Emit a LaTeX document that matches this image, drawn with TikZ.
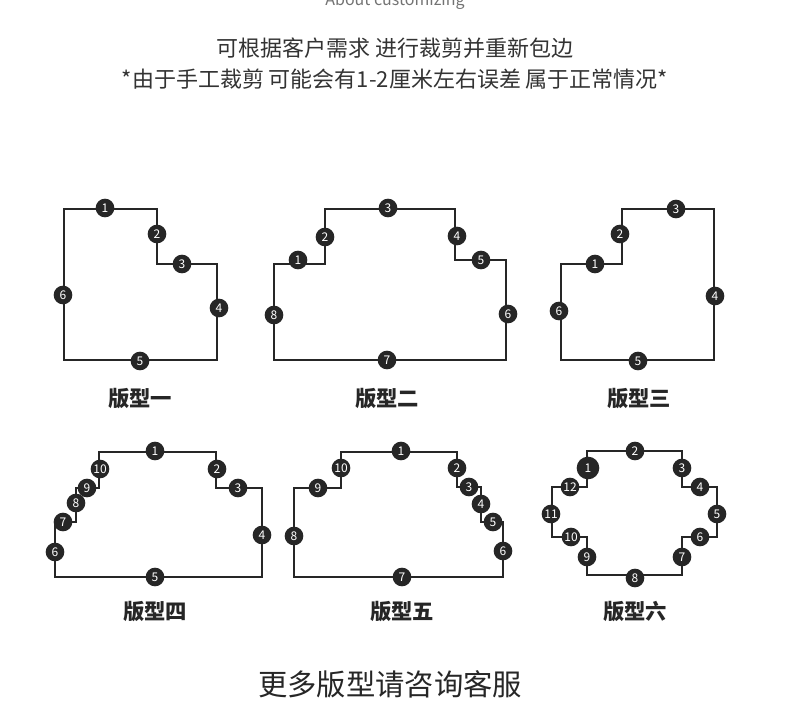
\documentclass[tikz,border=0pt]{standalone}
\usepackage{fontspec}
\usepackage{tikz}
\setmainfont{Noto Sans CJK SC}
\usetikzlibrary{calc}

\tikzset{
  outline/.style={draw=black!85, line width=1.5pt},
  badge/.style={circle, fill=black!85, text=white, inner sep=0pt, minimum size=14pt, font=\fontsize{9}{9}\selectfont},
  caption/.style={font=\bfseries\fontsize{16}{16}\selectfont, text=black!85}
}

\begin{document}
\begin{tikzpicture}[x=0.75pt,y=-0.75pt]
                            \useasboundingbox (0,0) rectangle (790,708);
                            \node [text=black!55, font=\fontsize{12}{12}\selectfont] (about) at (395,1) {About customizing};
                            \node [text=black!80, font=\fontsize{16.5}{16.5}\selectfont] (line1) at (395,48) {可根据客户需求 进行裁剪并重新包边};
                            \node [text=black!80, font=\fontsize{16.5}{16.5}\selectfont] (line2) at (395,79) {*由于手工裁剪 可能会有1-2厘米左右误差 属于正常情况*};
                            % outlines
                            \draw [outline] (64,209) -- (157,209) -- (157,264) -- (217,264) -- (217,360) -- (64,360) -- cycle;
                            \draw [outline] (274,360) -- (274,264) -- (325,264) -- (325,209) -- (455,209) -- (455,260) -- (506,260) -- (506,360) -- cycle;
                            \draw [outline] (561,360) -- (561,264) -- (622,264) -- (622,209) -- (714,209) -- (714,360) -- cycle;
                            \draw [outline] (55,577) -- (55,522) -- (76,522) -- (76,488) -- (99,488) -- (99,452) -- (216,452) -- (216,488) -- (262,488) -- (262,577) -- cycle;
                            \draw [outline] (294,577) -- (294,488) -- (341,488) -- (341,452) -- (457,452) -- (457,487) -- (481,487) -- (481,522) -- (503,522) -- (503,577) -- cycle;
                            \draw [outline] (587,451) -- (682,451) -- (682,487) -- (717,487) -- (717,537) -- (682,537) -- (682,575) -- (587,575) -- (587,537) -- (552,537) -- (552,487) -- (587,487) -- cycle;
                            % numbered badges
                            \foreach \n/\x/\y in {1/105/208, 2/157/234, 3/182/264, 4/219/308, 5/140/361, 6/63/295}
                                \node [badge] (a\n) at (\x,\y) {\n};
                            \foreach \n/\x/\y in {1/298/260, 2/325/237, 3/388/208, 4/457/236, 5/481/260, 6/508/314, 7/387/360, 8/274/315}
                                \node [badge] (b\n) at (\x,\y) {\n};
                            \foreach \n/\x/\y in {1/595/264, 2/620/234, 3/676/209, 4/715/296, 5/638/361, 6/559/311}
                                \node [badge] (c\n) at (\x,\y) {\n};
                            \foreach \n/\x/\y in {1/155/451, 2/217/469, 3/238/488, 4/262/535, 5/155/577, 6/55/552, 7/63/522, 8/76/503, 9/87/488, 10/100/469}
                                \node [badge] (d\n) at (\x,\y) {\n};
                            \foreach \n/\x/\y in {1/401/451, 2/457/468, 3/469/487, 4/481/504, 5/493/522, 6/503/551, 7/402/577, 8/294/536, 9/318/488, 10/341/468}
                                \node [badge] (e\n) at (\x,\y) {\n};
                            \foreach \n/\x/\y in {2/635/451, 3/682/468, 4/700/487, 5/717/514, 6/700/537, 7/682/557, 8/635/578, 9/587/557, 10/571/537, 11/551/514, 12/570/487}
                                \node [badge] (f\n) at (\x,\y) {\n};
                            \node [badge, minimum size=17pt] (f1) at (588,468) {1};
                            % captions
                            \node [caption] (cap1) at (140,399) {版型一};
                            \node [caption] (cap2) at (387,399) {版型二};
                            \node [caption] (cap3) at (639,399) {版型三};
                            \node [caption] (cap4) at (155,612) {版型四};
                            \node [caption] (cap5) at (402,612) {版型五};
                            \node [caption] (cap6) at (635,612) {版型六};
                            \node [text=black!85, font=\fontsize{22}{22}\selectfont] (more) at (390,684) {更多版型请咨询客服};
                        \end{tikzpicture}
\end{document}
